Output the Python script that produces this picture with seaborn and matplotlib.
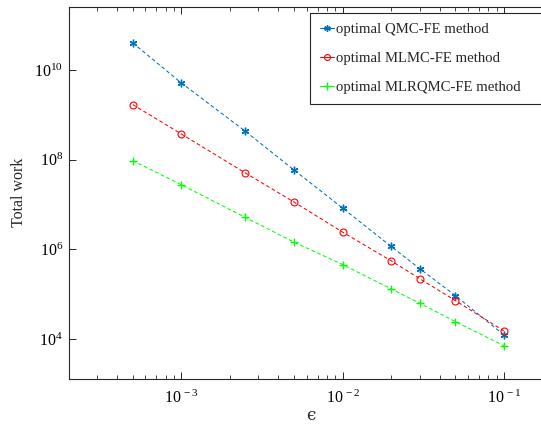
import numpy as np
import pandas as pd
import matplotlib
matplotlib.use("Agg")
import matplotlib.pyplot as plt
import seaborn as sns

# Tolerances and total work for the three estimators
eps = [5e-4, 1e-3, 2.5e-3, 5e-3, 1e-2, 2e-2, 3e-2, 5e-2, 1e-1]
work_qmc = [4.09e10, 5.22e9, 4.32e8, 5.92e7, 8.37e6, 1.16e6, 3.73e5, 9.3e4, 1.23e4]
work_mlmc = [1.71e9, 3.78e8, 5.07e7, 1.14e7, 2.43e6, 5.55e5, 2.23e5, 7.18e4, 1.51e4]
work_mlrqmc = [9.55e7, 2.78e7, 5.16e6, 1.45e6, 4.59e5, 1.31e5, 6.29e4, 2.44e4, 7.08e3]

labels = ["optimal QMC-FE method", "optimal MLMC-FE method", "optimal MLRQMC-FE method"]
x_ticks = [1e-3, 1e-2, 1e-1]
x_ticklabels = [r"$10^{\,-3}$", r"$10^{\,-2}$", r"$10^{\,-1}$"]
y_ticks = [1e4, 1e6, 1e8, 1e10]
y_ticklabels = [r"$10^{4}$", r"$10^{6}$", r"$10^{8}$", r"$10^{10}$"]

sns.set_theme(style="ticks")
plt.rcParams["font.family"] = ["Liberation Serif", "DejaVu Serif"]
plt.rcParams["mathtext.fontset"] = "custom"
plt.rcParams["mathtext.rm"] = "Liberation Serif"
plt.rcParams["mathtext.it"] = "Liberation Serif:italic"

axis_col = "#262626"

fig = plt.figure(figsize=(5.41, 4.26), dpi=100)
ax = fig.add_axes([68.5 / 541, 1 - 379 / 426, (552.5 - 68.5) / 541, (379 - 6.5) / 426])

styles = [
    dict(color="#0072BD", marker=(6, 2, 0), ms=5.5, mfc="#0072BD", mec="#0072BD", mew=1.0),
    dict(color="#FF0000", marker="o", ms=5.0, mfc="none", mec="#FF0000", mew=0.8),
    dict(color="#00FF00", marker="+", ms=6.0, mfc="#00FF00", mec="#00FF00", mew=1.0),
]

for vals, lab, st in zip([work_qmc, work_mlmc, work_mlrqmc], labels, styles):
    df = pd.DataFrame({"eps": eps, "work": vals})
    sns.lineplot(data=df, x="eps", y="work", ax=ax, label=lab,
                 color=st["color"], linewidth=0.75)
    line = ax.lines[-1]
    line.set_linestyle((0, (3.5, 2.5)))
    line.set_marker(st["marker"])
    line.set_markersize(st["ms"])
    line.set_markerfacecolor(st["mfc"])
    line.set_markeredgecolor(st["mec"])
    line.set_markeredgewidth(st["mew"])

ax.set_xscale("log")
ax.set_yscale("log")
ax.set_xlim(2e-4, 0.2)
ax.set_ylim(1.276e3, 2.65e11)

ax.set_xticks(x_ticks)
ax.set_xticklabels(x_ticklabels)
ax.set_yticks(y_ticks)
ax.set_yticklabels(y_ticklabels)
ax.yaxis.set_minor_locator(matplotlib.ticker.NullLocator())
ax.xaxis.set_minor_locator(matplotlib.ticker.LogLocator(base=10, subs=np.arange(2, 10)))
ax.xaxis.set_minor_formatter(matplotlib.ticker.NullFormatter())

ax.tick_params(axis="both", which="major", direction="in", length=5, width=0.7,
               color=axis_col, labelsize=11.5, labelcolor="black",
               top=True, right=True)
ax.tick_params(axis="x", which="minor", direction="in", length=3, width=0.6,
               color=axis_col, top=True)
ax.tick_params(axis="x", which="major", pad=8)
ax.tick_params(axis="y", which="major", pad=4)

for sp in ax.spines.values():
    sp.set_color(axis_col)
    sp.set_linewidth(0.8)
    sp.set_visible(True)

ax.set_xlabel("\u03f5", fontsize=12, labelpad=0,
              family=["DejaVu Serif", "Liberation Serif"])
ax.set_ylabel("Total work", fontsize=11.5, labelpad=5)
ax.grid(False)

# Legend box anchored in figure pixels, widened past the right edge
lx0, ly_top, lw, lh_box = 310, 12.7, 240, 91
leg = ax.legend(loc="upper left", mode="expand",
                bbox_to_anchor=(lx0 / 541, 1 - (ly_top + lh_box) / 426,
                                lw / 541, lh_box / 426),
                bbox_transform=fig.transFigure, fontsize=10.6,
                frameon=True, fancybox=False, edgecolor=axis_col,
                framealpha=1, handlelength=0.9, handletextpad=0.2,
                labelspacing=1.05, borderpad=0.7, borderaxespad=0)
leg.get_frame().set_linewidth(0.8)
for lh, st in zip(leg.get_lines(), styles):
    lh.set_linestyle("-")
    lh.set_marker(st["marker"])
    lh.set_markersize(st["ms"] * 0.85)
    lh.set_markerfacecolor(st["mfc"])
    lh.set_markeredgecolor(st["mec"])
    lh.set_markeredgewidth(st["mew"])

fig.savefig("out.png", dpi=100)
